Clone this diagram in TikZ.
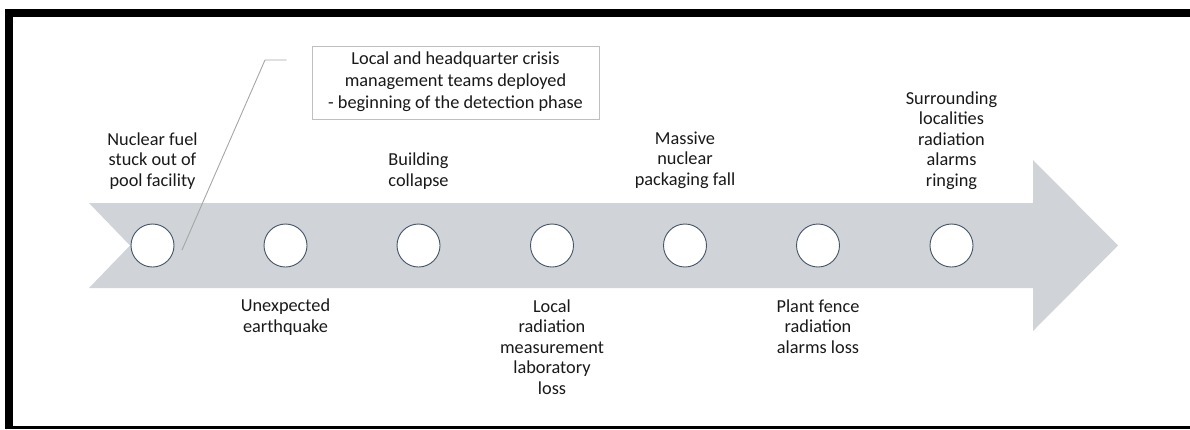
\documentclass[tikz,border=0pt]{standalone}
\usepackage{fontspec}
\setmainfont{Carlito}
\definecolor{band}{RGB}{208,211,215}
\definecolor{ring}{RGB}{68,84,106}
\definecolor{callgray}{RGB}{166,166,166}
\definecolor{boxgray}{RGB}{191,191,191}
\definecolor{ink}{RGB}{25,25,25}
\newcommand\stack[1]{\begin{tabular}[b]{@{}c@{}}#1\end{tabular}}
\tikzset{
  event/.style={circle, draw=ring, line width=0.9bp, fill=white, minimum size=43bp, inner sep=0pt},
  lbl/.style={anchor=base, inner sep=0pt, text=ink, font=\fontsize{18.3bp}{20.6bp}\selectfont},
  callout/.style={draw=boxgray, line width=0.9bp, fill=white, inner sep=0pt,
    minimum width=287bp, minimum height=73bp, text=ink,
    font=\fontsize{18.3bp}{22bp}\selectfont},
  leader/.style={draw=callgray, line width=0.9bp}
}
\begin{document}
\begin{tikzpicture}[x=1bp, y=-1bp]
\useasboundingbox (0,0) rectangle (1190,429);
% frame
\fill[black] (5,9) rectangle (1190,17);
\fill[black] (5,9) rectangle (13,429);
\fill[black] (5,426) rectangle (1190,429);
% timeline arrow
\fill[band] (89,203) -- (1033,203) -- (1033,160) -- (1118,245.5) -- (1033,331)
  -- (1033,288) -- (89,288) -- (130,245.5) -- cycle;
% events
\foreach \i/\x in {1/152.5,2/285.5,3/418.5,4/552,5/685,6/818,7/951.5}
  \node[event] (e\i) at (\x,245.5) {};
% labels above
\node[lbl] (t1) at (152.5,186.5) {\stack{Nuclear fuel\\stuck out of\\pool facility}};
\node[lbl] (t3) at (418.5,186.5) {\stack{Building\\collapse}};
\node[lbl] (t5) at (685,185.5) {\stack{Massive\\nuclear\\packaging fall}};
\node[lbl] (t7) at (951.5,186.5) {\stack{Surrounding\\localities\\radiation\\alarms\\ringing}};
% labels below
\node[lbl] (b2) at (285.5,332.5) {\stack{Unexpected\\earthquake}};
\node[lbl] (b4) at (552,394.5) {\stack{Local\\radiation\\measurement\\laboratory\\loss}};
\node[lbl] (b6) at (818,353.5) {\stack{Plant fence\\radiation\\alarms loss}};
% callout
\node[callout] (note) at (455.5,82.5) {\begin{tabular}{@{}c@{}}Local and headquarter crisis\\management teams deployed\\- beginning of the detection phase\end{tabular}};
\coordinate (lead0) at ([xshift=-25bp]note.west |- 0,60);
\coordinate (lead1) at (265,60);
\coordinate (lead2) at (182,250);
\draw[leader] (lead0) -- (lead1) -- (lead2);
\end{tikzpicture}
\end{document}
